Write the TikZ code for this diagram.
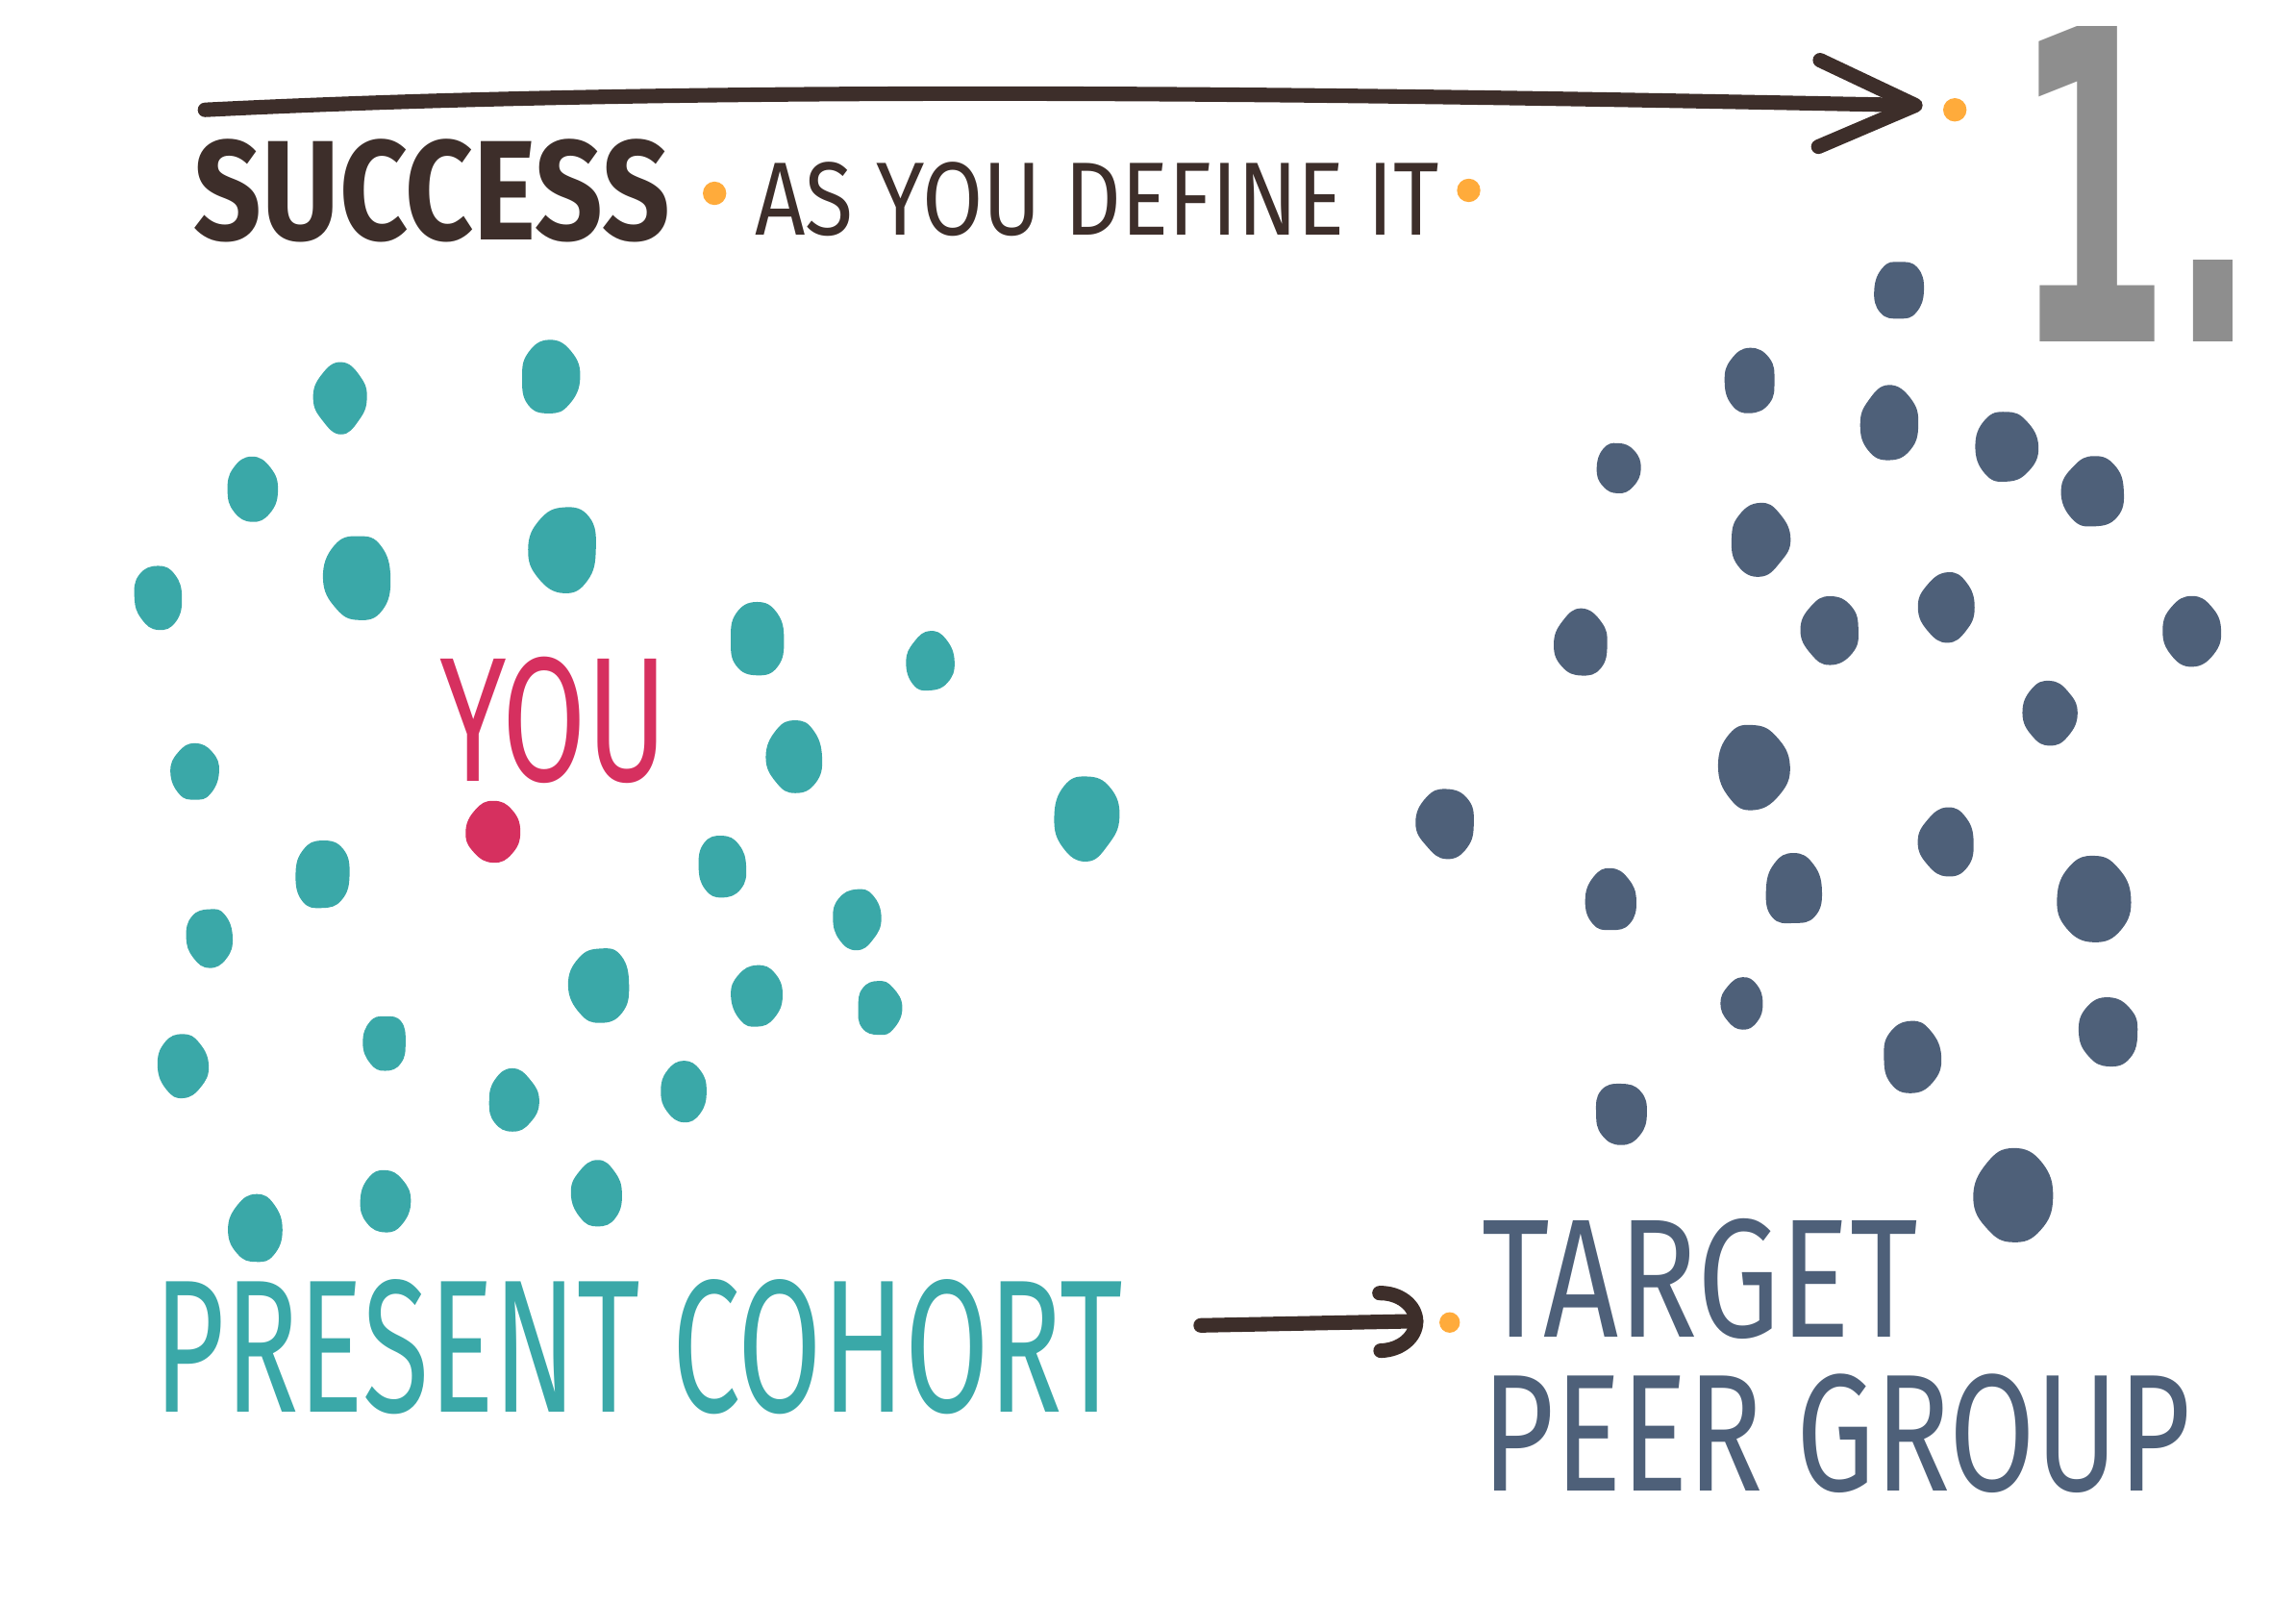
\documentclass[tikz,border=0pt]{standalone}
\usepackage{fontspec}
\setmainfont{Fira Sans}
\newfontfamily\numfont{DejaVu Sans}
\usetikzlibrary{arrows.meta,positioning,calc}
\definecolor{sketchink}{HTML}{3D2E2A}
\definecolor{sketchteal}{HTML}{3AA8A8}
\definecolor{sketchslate}{HTML}{4E6079}
\definecolor{sketchred}{HTML}{D6305F}
\definecolor{sketchorange}{HTML}{FFAB3B}
\definecolor{sketchgray}{HTML}{8E8E8E}

\begin{document}
\begin{tikzpicture}[
    x=0.01523cm,y=-0.01523cm,
    hand/.style={inner sep=0pt,anchor=west},
    ink/.style={line width=4.3pt,sketchink,line cap=round,line join=round},
    dot/.style={fill=sketchorange},
    blob/.style={smooth cycle,tension=0.8,variable=\t,samples=8,domain=0:315},
  ]
    \useasboundingbox (0,0) rectangle (1568,1095);
    \pgfmathsetseed{17}

    % headline
    \coordinate (top start) at (140,75);
    \coordinate (top end) at (1313,72);
    \draw[ink,-{Straight Barb[length=1.0cm,width=0.9cm,round]}]
      (top start) .. controls (520,56) and (1000,66) .. (top end);
    \fill[dot] (1335,75) circle (8);

    \node[hand,text=sketchink,font=\fontsize{40}{40}\bfseries\selectfont] (success) at (132,130) {\scalebox{0.88}[1.05]{SUCCESS}};
    \fill[dot] (488,132) circle (8);
    \node[hand,text=sketchink,font=\fontsize{28}{28}\selectfont] (define) at (515,136) {\scalebox{0.93}[1.1]{AS YOU DEFINE IT}};
    \fill[dot] (1003,130) circle (8);

    \node[inner sep=0pt,anchor=south,text=sketchgray,font=\numfont\bfseries\fontsize{128}{128}\selectfont] (number) at (1458,234) {\scalebox{0.52}[1]{1.}};

    % present cohort
    \foreach \px/\py/\r in {233/272/18,375/258/20,172/335/17,108/408/17,245/395/23,
        385/375/23,517/437/19,635/452/16,133/527/16,543/517/19,742/558/22,
        220/597/19,493/592/17,143/640/16,585/627/16,410/673/21,517/680/17,
        600/688/15,125/728/17,263/712/15,350/752/17,467/745/16,175/840/18,
        263/820/17,408/815/17}
      \fill[sketchteal] plot[blob]
        ({\px+\r*(1+0.08*rand)*cos(\t)},{\py+1.28*\r*(1+0.08*rand)*sin(\t)});

    \node[inner sep=0pt,text=sketchred,font=\fontsize{50}{50}\selectfont] (you) at (378,492) {\scalebox{0.72}[1.05]{YOU}};
    \fill[sketchred] plot[blob]
      ({337+18*(1+0.06*rand)*cos(\t)},{568+21*(1+0.06*rand)*sin(\t)});

    % target peer group
    \foreach \px/\py/\r in {1297/198/17,1195/260/18,1290/290/21,1370/305/21,1105/320/15,
        1430/335/21,1202/368/20,1080/440/19,1250/430/20,1330/415/19,1497/430/20,
        1400/487/18,1197/523/24,988/562/20,1330/575/19,1100/615/18,1225/608/20,
        1430/613/25,1190/685/14,1440/705/20,1305/722/20,1107/760/18,1375/818/27}
      \fill[sketchslate] plot[blob]
        ({\px+\r*(1+0.08*rand)*cos(\t)},{\py+1.2*\r*(1+0.08*rand)*sin(\t)});

    \node[hand,text=sketchteal,font=\fontsize{40}{40}\selectfont] (cohort) at (105,920) {\scalebox{0.9}[1.4]{PRESENT COHORT}};

    \node[hand,text=sketchslate,font=\fontsize{40}{40}\selectfont] (target) at (1012,873) {\scalebox{0.97}[1.25]{TARGET}};
    \node[hand,text=sketchslate,font=\fontsize{38}{38}\selectfont,below=0.35cm of target.south west,anchor=north west] (peer) {\scalebox{0.97}[1.3]{PEER GROUP}};

    \coordinate (link start) at (820,905);
    \coordinate (link end) at (972,902);
    \draw[ink,-{Arc Barb[length=0.45cm,width=0.75cm,round]}] (link start) -- (link end);
    \fill[dot] (990,903) circle (7);
  \end{tikzpicture}
\end{document}
